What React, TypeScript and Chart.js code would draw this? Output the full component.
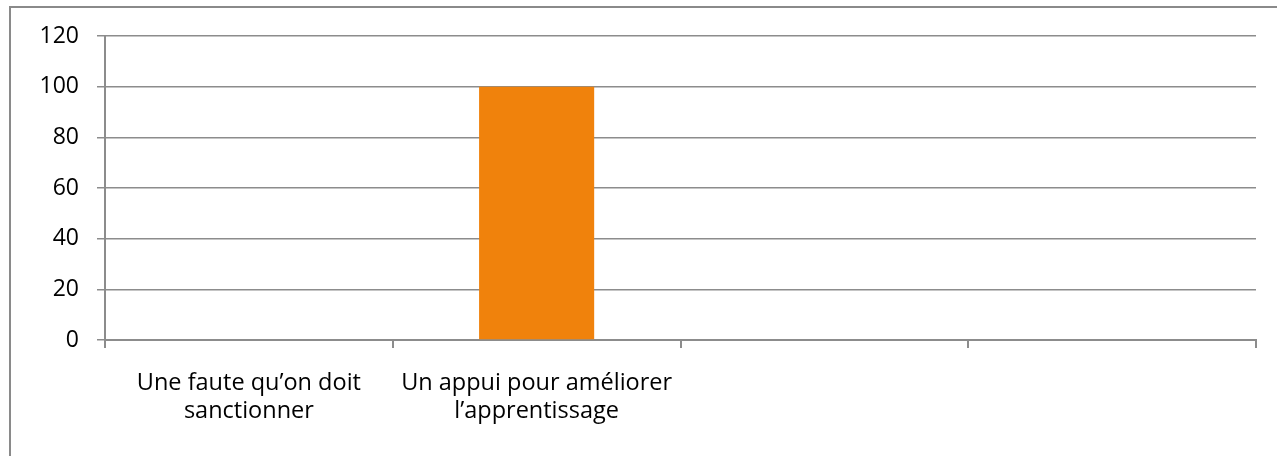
import React, { useEffect, useRef } from "react";
import { Chart, registerables } from "chart.js";

Chart.register(...registerables);

const categories: (string | string[])[] = [
  ["Une faute qu’on doit", "sanctionner"],
  ["Un appui pour améliorer", "l’apprentissage"],
  "",
  "",
];
const values: (number | null)[] = [0, 100, null, null];
const yTicks = { min: 0, max: 120, step: 20 };

const FONT = "'Open Sans', sans-serif";
const GRID = "#8c8c8c";

export default function App() {
  const ref = useRef<HTMLCanvasElement | null>(null);

  useEffect(() => {
    document.body.style.margin = "0";
    const canvas = ref.current;
    if (!canvas) return;
    const chart = new Chart(canvas, {
      type: "bar",
      data: {
        labels: categories,
        datasets: [
          {
            data: values,
            backgroundColor: "#F0820C",
            borderWidth: 0,
            barPercentage: 0.8,
            categoryPercentage: 0.5,
          },
        ],
      },
      options: {
        responsive: false,
        animation: false,
        devicePixelRatio: 1,
        layout: { padding: { left: 0, right: 21, top: 36, bottom: 0 } },
        plugins: { legend: { display: false }, tooltip: { enabled: false } },
        scales: {
          x: {
            grid: {
              offset: true,
              drawOnChartArea: false,
              drawTicks: true,
              tickLength: 8,
              color: GRID,
              lineWidth: 2,
            },
            border: { color: GRID, width: 2 },
            ticks: {
              color: "#000",
              font: { family: FONT, size: 23.5, lineHeight: 1.2 },
              padding: 21,
              maxRotation: 0,
              autoSkip: false,
            },
            afterFit: (s: any) => {
              s.height = 456 - 340;
            },
          },
          y: {
            min: yTicks.min,
            max: yTicks.max,
            ticks: {
              stepSize: yTicks.step,
              color: "#000",
              font: { family: FONT, size: 23 },
              padding: 18,
            },
            grid: {
              color: GRID,
              lineWidth: 1.5,
              tickLength: 8,
            },
            border: { color: GRID, width: 2 },
            afterFit: (s: any) => {
              s.width = 105;
            },
          },
        },
      },
    });
    return () => chart.destroy();
  }, []);

  return (
    <div style={{ position: "fixed", left: 0, top: 0, width: 1277, height: 456, background: "#fff", overflow: "hidden" }}>
      <div
        style={{
          position: "absolute",
          left: 9,
          top: 6,
          width: 1300,
          height: 500,
          border: "2px solid #8a8a8a",
        }}
      />
      <canvas ref={ref} width={1277} height={456} style={{ position: "absolute", left: 0, top: 0 }} />
    </div>
  );
}
